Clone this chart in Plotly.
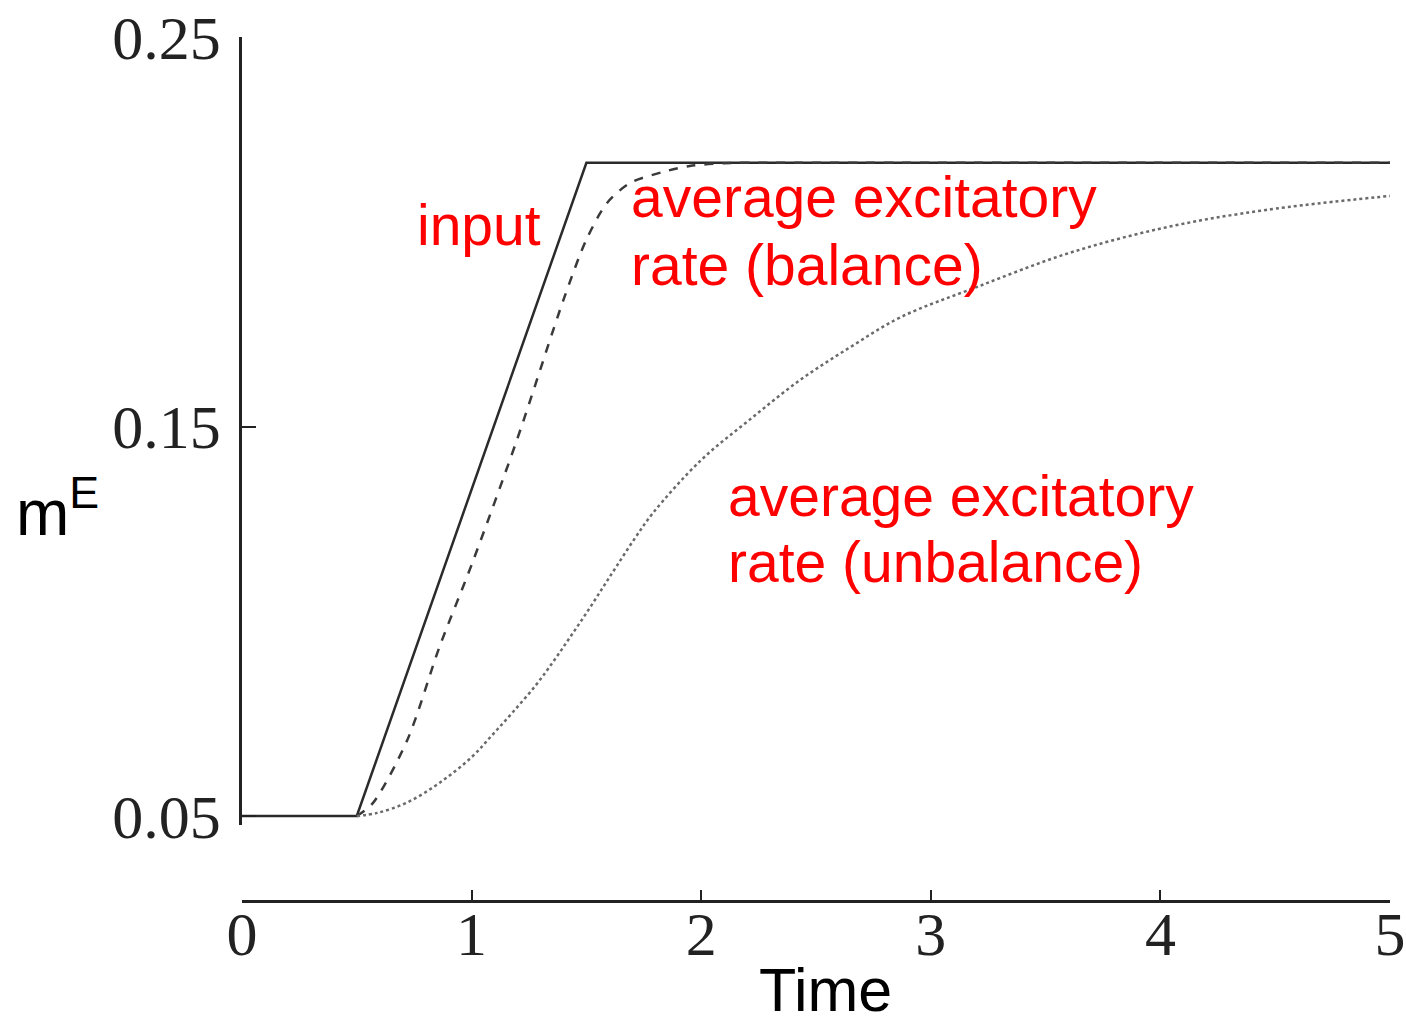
import plotly.graph_objects as go

# ---- data ----
t_input = [0.0, 0.5, 1.5, 5.0]
m_input = [0.05, 0.05, 0.2177, 0.2177]

t_balance = [0.5, 0.57, 0.72, 0.86, 1.0, 1.2, 1.4, 1.5, 1.59, 1.69, 1.83, 1.95, 2.1, 2.3, 5.0]
m_balance = [0.05, 0.0533, 0.0695, 0.0934, 0.1145, 0.147, 0.1825, 0.198, 0.2074, 0.2125,
             0.2153, 0.2169, 0.2176, 0.2177, 0.2177]

t_unbalance = [0.5, 0.59, 0.72, 0.86, 1.0, 1.09, 1.18, 1.28, 1.36, 1.43, 1.5, 1.57, 1.63,
               1.71, 1.79, 2.0, 2.21, 2.43, 2.65, 2.87, 3.2, 3.6, 4.03, 4.46, 5.0]
m_unbalance = [0.05, 0.0508, 0.0535, 0.0585, 0.0651, 0.0708, 0.0767, 0.0836, 0.09, 0.096,
               0.1021, 0.1085, 0.114, 0.1212, 0.1278, 0.1414, 0.1517, 0.1619, 0.1704, 0.1781,
               0.1858, 0.1945, 0.2012, 0.2056, 0.2092]

x_ticks = [0, 1, 2, 3, 4, 5]
y_ticks = [0.05, 0.15, 0.25]
y_tick_labels = ["0.05", "0.15", "0.25"]

fig = go.Figure()
fig.add_trace(go.Scatter(x=t_input, y=m_input, mode="lines",
                         line=dict(color="#2b2b2b", width=2.5), name="input"))
fig.add_trace(go.Scatter(x=t_balance, y=m_balance, mode="lines",
                         line=dict(color="#3a3a3a", width=2.5, dash="dash", shape="spline",
                                   smoothing=0.8),
                         name="balance"))
fig.add_trace(go.Scatter(x=t_unbalance, y=m_unbalance, mode="lines",
                         line=dict(color="#6a6a6a", width=2.5, dash="dot", shape="spline",
                                   smoothing=1.0),
                         name="unbalance"))

serif = "Liberation Serif, Times New Roman, serif"
sans = "Liberation Sans, Arial, sans-serif"

fig.update_layout(
    width=1406, height=1026,
    margin=dict(l=242, r=16, t=37, b=125, autoexpand=False),
    paper_bgcolor="white", plot_bgcolor="white",
    showlegend=False,
    xaxis=dict(range=[0, 5], tickvals=x_ticks, ticks="inside", ticklen=10, tickwidth=2,
               tickcolor="#222", showline=True, linecolor="#222", linewidth=2.5,
               showgrid=False, zeroline=False, anchor="free", position=0, automargin=False,
               tickfont=dict(family=serif, size=62, color="#222"), ticklabelstandoff=-22),
    yaxis=dict(range=[0.0477, 0.25], domain=[0.088, 1], tickvals=y_ticks,
               ticktext=y_tick_labels, ticks="inside", ticklen=14, tickwidth=2,
               tickcolor="#222", showline=True, linecolor="#222", linewidth=2.5,
               showgrid=False, zeroline=False, automargin=False,
               tickfont=dict(family=serif, size=62, color="#222"), ticklabelstandoff=6),
)

red = "#ff0000"
notes = [
    ("input", 0.755, 0.2017),
    ("average excitatory", 1.684, 0.2089),
    ("rate (balance)", 1.684, 0.1915),
    ("average excitatory", 2.11, 0.1322),
    ("rate (unbalance)", 2.11, 0.1152),
]
for txt, x, y in notes:
    fig.add_annotation(x=x, y=y, xref="x", yref="y", text=txt, showarrow=False,
                       xanchor="left", yanchor="middle",
                       font=dict(family=sans, size=57, color=red))

# axis titles
fig.add_annotation(x=0.508, y=-0.103, xref="paper", yref="paper", text="Time",
                   showarrow=False, xanchor="center", yanchor="middle",
                   font=dict(family=sans, size=61, color="black"))
fig.add_annotation(x=-0.199, y=0.455, xref="paper", yref="paper",
                   text="m<sup>E</sup>", showarrow=False, xanchor="left", yanchor="middle",
                   font=dict(family=sans, size=64, color="black"))

fig.write_html("out.html")
